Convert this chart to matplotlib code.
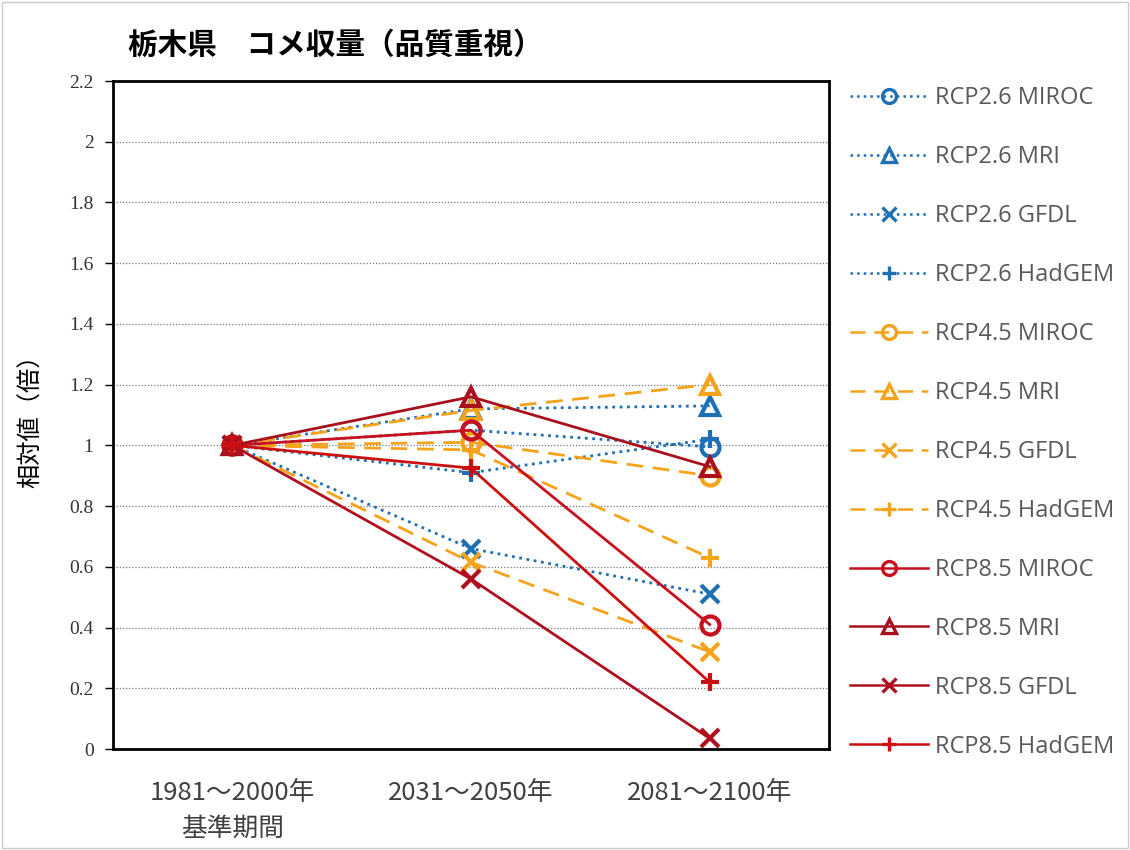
import matplotlib.pyplot as plt
from matplotlib.lines import Line2D

plt.rcParams['font.family'] = ['Noto Sans CJK JP', 'DejaVu Sans']

# periods on the x axis
periods = ['1981～2000年\n基準期間', '2031～2050年', '2081～2100年']

# relative yield (base period = 1)
rcp26_miroc = [1.0, 1.05, 0.995]
rcp26_mri = [1.0, 1.12, 1.13]
rcp26_gfdl = [1.0, 0.66, 0.51]
rcp26_hadgem = [1.0, 0.91, 1.02]
rcp45_miroc = [1.0, 1.01, 0.90]
rcp45_mri = [1.0, 1.115, 1.20]
rcp45_gfdl = [1.0, 0.615, 0.32]
rcp45_hadgem = [1.0, 0.985, 0.63]
rcp85_miroc = [1.0, 1.05, 0.41]
rcp85_mri = [1.0, 1.16, 0.93]
rcp85_gfdl = [1.0, 0.56, 0.035]
rcp85_hadgem = [1.0, 0.925, 0.22]

series = [
    ('RCP2.6 MIROC', rcp26_miroc, '#1f6fb4', 'o', ':'),
    ('RCP2.6 MRI', rcp26_mri, '#1f6fb4', '^', ':'),
    ('RCP2.6 GFDL', rcp26_gfdl, '#1f6fb4', 'x', ':'),
    ('RCP2.6 HadGEM', rcp26_hadgem, '#1f6fb4', '+', ':'),
    ('RCP4.5 MIROC', rcp45_miroc, '#f5a31a', 'o', '--'),
    ('RCP4.5 MRI', rcp45_mri, '#f5a31a', '^', '--'),
    ('RCP4.5 GFDL', rcp45_gfdl, '#f5a31a', 'x', '--'),
    ('RCP4.5 HadGEM', rcp45_hadgem, '#f5a31a', '+', '--'),
    ('RCP8.5 MIROC', rcp85_miroc, '#c8101e', 'o', '-'),
    ('RCP8.5 MRI', rcp85_mri, '#a8101c', '^', '-'),
    ('RCP8.5 GFDL', rcp85_gfdl, '#b0101e', 'x', '-'),
    ('RCP8.5 HadGEM', rcp85_hadgem, '#cc1010', '+', '-'),
]

fig = plt.figure(figsize=(11.3, 8.5), dpi=100)
ax = fig.add_axes([113 / 1130, 1 - 749 / 850, 716 / 1130, 668 / 850])

xs = range(len(periods))
handles = []
for label, vals, color, marker, ls in series:
    dashes = (6, 3.5) if ls == '--' else None
    kw = dict(color=color, linestyle=ls, linewidth=2, marker=marker,
              markersize=13,
              markerfacecolor='none', markeredgecolor=color, markeredgewidth=3)
    line, = ax.plot(xs, vals, **kw)
    if dashes:
        line.set_dashes(dashes)
    h = Line2D([0], [0], **dict(kw, linewidth=1.8, markersize=10, markeredgewidth=2.4))
    if dashes:
        h.set_dashes(dashes)
    handles.append((h, label))

# axes styling
ax.set_xlim(-0.5, 2.5)
ax.set_ylim(0, 2.2)
ax.set_yticks([i * 0.2 for i in range(12)])
ax.set_yticklabels(['0', '0.2', '0.4', '0.6', '0.8', '1', '1.2', '1.4', '1.6', '1.8', '2', '2.2'],
                   family='Liberation Serif', fontsize=14, color='#333333')
ax.set_xticks(list(xs))
ax.set_xticklabels(periods, fontsize=18.5, color='#404040', linespacing=1.5)
ax.tick_params(axis='x', length=0, pad=22)
ax.tick_params(axis='y', length=6, width=1, direction='out', pad=8)
ax.yaxis.grid(True, linestyle=(0, (1, 1.5)), color='#777777', linewidth=0.9)
ax.set_axisbelow(True)
for s in ax.spines.values():
    s.set_linewidth(2)
    s.set_color('black')

ax.set_ylabel('相対値（倍）', fontsize=17.5, labelpad=18)

fig.text(128 / 1130, 1 - 45 / 850, '栃木県　コメ収量（品質重視）', fontsize=21.3,
         fontweight='bold', va='center', ha='left')

leg = fig.legend([h for h, _ in handles], [l for _, l in handles],
                 loc='upper left', bbox_to_anchor=(829 / 1130, 1 - 65 / 850),
                 frameon=False, labelspacing=1.48, handlelength=3.3,
                 handletextpad=0.3, numpoints=1,
                 prop={'family': ['Open Sans', 'DejaVu Sans'], 'size': 17})
for t in leg.get_texts():
    t.set_color('#595959')

# light outer frame
fig.patches.append(plt.Rectangle((0.002, 0.002), 0.996, 0.996, transform=fig.transFigure,
                                 fill=False, edgecolor='#cccccc', linewidth=1))

fig.savefig('out.png', dpi=100)
